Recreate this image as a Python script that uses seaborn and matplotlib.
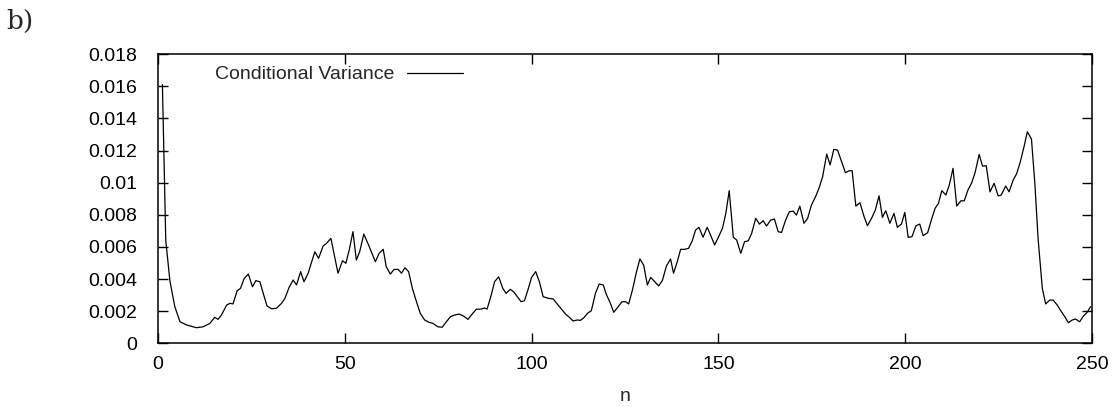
import matplotlib
matplotlib.use("Agg")
import matplotlib.pyplot as plt
from matplotlib.ticker import FuncFormatter, MultipleLocator
import seaborn as sns
import pandas as pd

# Time index of each sample
n = [1.2, 2.1, 3.2, 4.5, 5.9, 7.7, 10.3, 12.1, 13.9, 15.2, 16.1, 17.0, 18.4, 19.3,
     20.1, 21.2, 22.1, 23.1, 24.2, 25.3, 26.2, 27.3, 28.2, 29.2, 30.4, 31.7, 33.1,
     34.0, 35.1, 36.2, 37.1, 38.2, 39.1, 40.2, 42.0, 43.0, 44.2, 45.1, 46.3, 47.3,
     48.2, 49.4, 50.3, 51.2, 52.2, 53.1, 54.0, 55.1, 56.2, 57.1, 58.2, 59.2, 60.3,
     61.1, 62.2, 63.2, 64.3, 65.2, 66.1, 67.1, 68.1, 69.2, 70.2, 71.4, 72.5, 73.6,
     74.9, 76.1, 77.2, 78.3, 79.4, 80.6, 81.8, 83.0, 84.1, 85.2, 86.6, 87.4, 88.1,
     89.2, 90.1, 91.2, 92.3, 93.2, 94.3, 95.2, 96.2, 97.2, 98.1, 99.0, 100.0, 101.1,
     102.1, 103.1, 104.5, 105.8, 107.1, 108.0, 109.1, 110.1, 111.1, 112.2, 113.1,
     114.0, 115.0, 116.0, 117.1, 118.1, 119.2, 120.0, 121.1, 122.0, 123.2, 124.2,
     125.2, 126.0, 127.0, 128.1, 129.0, 130.0, 131.0, 131.9, 133.0, 134.0, 135.0,
     136.1, 137.2, 138.0, 139.0, 139.9, 141.0, 142.0, 143.0, 143.9, 144.8, 145.9,
     147.0, 147.9, 149.0, 150.0, 151.1, 152.0, 152.9, 154.0, 154.9, 156.0, 157.0,
     158.0, 158.9, 160.0, 161.0, 162.0, 162.9, 164.0, 165.0, 166.0, 166.9, 168.0,
     169.0, 170.0, 170.9, 171.8, 172.9, 173.9, 174.9, 176.0, 177.0, 177.9, 179.0,
     179.9, 180.9, 181.9, 183.0, 184.0, 185.0, 185.8, 186.8, 187.9, 189.0, 189.9,
     191.0, 192.0, 193.0, 193.9, 194.8, 195.9, 197.0, 197.9, 199.0, 199.9, 200.8,
     201.8, 202.9, 203.9, 204.8, 206.0, 207.0, 208.0, 208.9, 209.8, 210.9, 211.8,
     212.8, 213.8, 214.9, 215.8, 216.8, 217.8, 218.7, 219.8, 220.7, 221.7, 222.7,
     223.8, 224.9, 225.7, 226.9, 227.8, 228.9, 229.8, 230.7, 231.8, 232.7, 233.8,
     234.7, 235.6, 236.7, 237.6, 238.7, 239.6, 240.7, 241.8, 242.7, 243.7, 244.7,
     245.6, 246.7, 247.6, 248.7, 249.6]

# Conditional variance, in units of 1e-3
variance_milli = [16.1, 6.4, 3.9, 2.3, 1.34, 1.14, 0.97, 1.03, 1.24, 1.62, 1.49, 1.76,
                  2.38, 2.49, 2.45, 3.27, 3.42, 4.04, 4.31, 3.52, 3.9, 3.83, 3.1, 2.32,
                  2.15, 2.18, 2.49, 2.8, 3.48, 3.94, 3.63, 4.46, 3.83, 4.36, 5.7, 5.29,
                  6.05, 6.22, 6.53, 5.39, 4.36, 5.14, 4.98, 5.81, 6.95, 5.18, 5.7, 6.8,
                  6.22, 5.7, 5.08, 5.6, 5.85, 4.77, 4.31, 4.6, 4.6, 4.36, 4.7, 4.46,
                  3.42, 2.59, 1.87, 1.45, 1.31, 1.24, 1.03, 1.0, 1.34, 1.66, 1.76, 1.82,
                  1.7, 1.49, 1.82, 2.12, 2.13, 2.2, 2.13, 3.0, 3.83, 4.14, 3.42, 3.11,
                  3.36, 3.21, 2.9, 2.59, 2.65, 3.3, 4.1, 4.46, 3.83, 2.9, 2.8, 2.76,
                  2.38, 2.13, 1.82, 1.62, 1.39, 1.45, 1.43, 1.59, 1.87, 2.03, 3.11, 3.69,
                  3.63, 3.05, 2.49, 1.93, 2.28, 2.59, 2.59, 2.45, 3.32, 4.46, 5.25, 4.87,
                  3.63, 4.1, 3.83, 3.57, 3.9, 4.81, 5.25, 4.36, 5.08, 5.85, 5.85, 5.91,
                  6.37, 7.05, 7.22, 6.6, 7.22, 6.74, 6.12, 6.6, 7.16, 8.09, 9.5, 6.6,
                  6.43, 5.6, 6.32, 6.38, 6.84, 7.78, 7.42, 7.63, 7.3, 7.67, 7.74, 6.95,
                  6.9, 7.67, 8.19, 8.23, 7.98, 8.54, 7.47, 7.78, 8.6, 9.12, 9.7, 10.37,
                  11.78, 11.1, 12.07, 12.03, 11.3, 10.62, 10.74, 10.74, 8.54, 8.75, 7.88,
                  7.32, 7.78, 8.29, 9.18, 7.84, 8.25, 7.47, 8.09, 7.22, 7.42, 8.15, 6.6,
                  6.63, 7.32, 7.42, 6.7, 6.88, 7.67, 8.4, 8.71, 9.5, 9.23, 9.85, 10.89,
                  8.54, 8.87, 8.87, 9.54, 9.99, 10.62, 11.76, 11.03, 11.05, 9.43, 9.96,
                  9.17, 9.23, 9.79, 9.43, 10.16, 10.54, 11.2, 12.23, 13.17, 12.71, 9.96,
                  6.43, 3.42, 2.45, 2.69, 2.69, 2.38, 1.97, 1.66, 1.28, 1.45, 1.51, 1.34,
                  1.66, 1.93, 2.28]

series_label = "Conditional Variance"
x_label = "n"
panel_label = "b)"

df = pd.DataFrame({"n": n, "variance": [v / 1000.0 for v in variance_milli]})

sns.set_style("ticks")
plt.rcParams["font.family"] = ["Liberation Sans", "DejaVu Sans"]

fig = plt.figure(figsize=(11.2, 4.07), dpi=100)
ax = fig.add_axes([0.141, 0.1565, 0.834, 0.7105])

sns.lineplot(data=df, x="n", y="variance", ax=ax, color="black", linewidth=0.9,
             label=series_label, sort=False)

ax.set_xlim(0, 250)
ax.set_ylim(0, 0.018)
ax.xaxis.set_major_locator(MultipleLocator(50))
ax.yaxis.set_major_locator(MultipleLocator(0.002))
ax.yaxis.set_major_formatter(FuncFormatter(
    lambda v, _: f"{v:.3f}".rstrip("0").rstrip(".") if v != 0 else "0"))

for side in ["top", "right", "bottom", "left"]:
    ax.spines[side].set_visible(True)
    ax.spines[side].set_linewidth(1.1)
    ax.spines[side].set_color("black")

ax.tick_params(axis="both", which="major", direction="in", length=7, width=1,
               top=True, right=True, labelsize=14, colors="black")
ax.tick_params(axis="x", pad=9)
ax.tick_params(axis="y", pad=15)

ax.set_xlabel(x_label, fontsize=14, labelpad=11)
ax.set_ylabel("")

ax.legend(loc="upper left", bbox_to_anchor=(0.0485, 1.0), frameon=False,
          markerfirst=False, handlelength=2.9, handletextpad=0.65,
          borderpad=0.1, fontsize=14)

fig.text(0.006, 0.978, panel_label, fontsize=19, family="DejaVu Serif",
         va="top", ha="left")

fig.savefig("out.png", dpi=100)
